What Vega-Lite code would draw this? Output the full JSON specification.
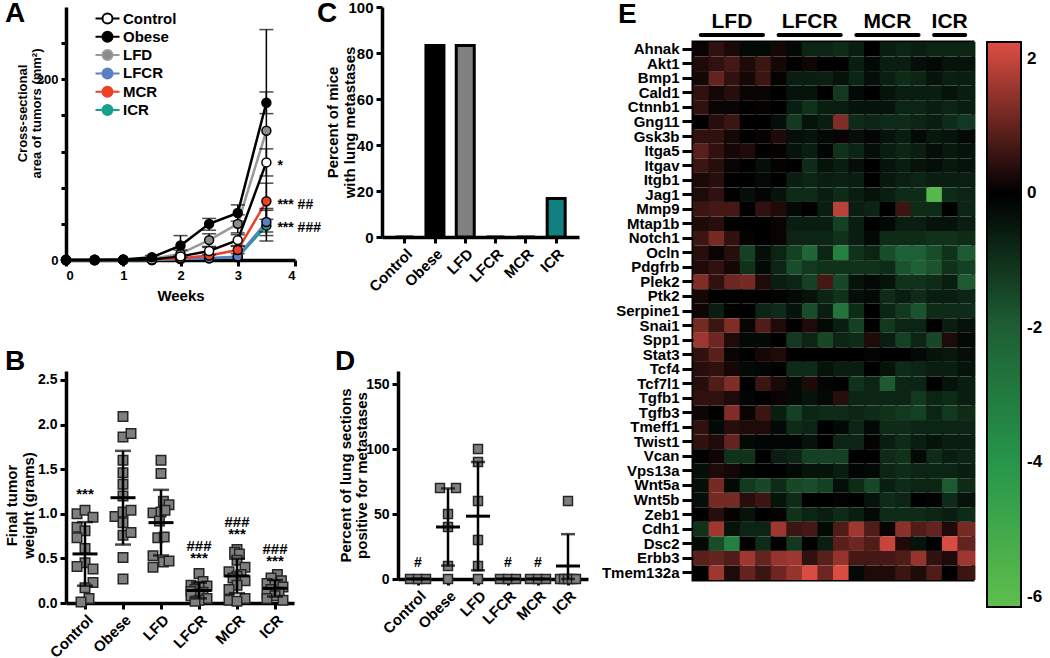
{
  "$schema": "https://vega.github.io/schema/vega-lite/v6.json",
  "background": "white",
  "padding": {"left": 4, "top": 0, "right": 0, "bottom": 0},
  "config": {
    "font": "Liberation Sans",
    "view": {"stroke": null},
    "axis": {"grid": false, "domainColor": "black", "domainWidth": 3.5, "tickColor": "black", "tickWidth": 3, "tickSize": 6, "labelColor": "black", "labelFontWeight": "bold", "labelFontSize": 14, "labelFont": "Liberation Sans", "titleFont": "Liberation Sans", "titleFontWeight": "bold", "titleFontSize": 15, "titleColor": "black", "labelPadding": 3},
    "title": {"font": "Liberation Sans", "fontSize": 28, "fontWeight": "bold", "anchor": "start", "frame": "group", "offset": 0, "baseline": "alphabetic", "color": "black"},
    "legend": {"labelFont": "Liberation Sans", "labelColor": "black", "padding": 0}
  },
  "datasets": {
    "growth": [
      {"group":"ICR","week":0,"area":0},{"group":"ICR","week":0.5,"area":0},{"group":"ICR","week":1,"area":0},{"group":"ICR","week":1.5,"area":0},{"group":"ICR","week":2,"area":1},{"group":"ICR","week":2.5,"area":2},{"group":"ICR","week":3,"area":3},{"group":"ICR","week":3.5,"area":38},
      {"group":"LFCR","week":0,"area":0},{"group":"LFCR","week":0.5,"area":0},{"group":"LFCR","week":1,"area":0},{"group":"LFCR","week":1.5,"area":0},{"group":"LFCR","week":2,"area":1},{"group":"LFCR","week":2.5,"area":2},{"group":"LFCR","week":3,"area":4},{"group":"LFCR","week":3.5,"area":42},
      {"group":"MCR","week":0,"area":0},{"group":"MCR","week":0.5,"area":0},{"group":"MCR","week":1,"area":0},{"group":"MCR","week":1.5,"area":0.5},{"group":"MCR","week":2,"area":2},{"group":"MCR","week":2.5,"area":5},{"group":"MCR","week":3,"area":11},{"group":"MCR","week":3.5,"area":65},
      {"group":"LFD","week":0,"area":0},{"group":"LFD","week":0.5,"area":0},{"group":"LFD","week":1,"area":0},{"group":"LFD","week":1.5,"area":1},{"group":"LFD","week":2,"area":7},{"group":"LFD","week":2.5,"area":22},{"group":"LFD","week":3,"area":40},{"group":"LFD","week":3.5,"area":143},
      {"group":"Control","week":0,"area":0},{"group":"Control","week":0.5,"area":0},{"group":"Control","week":1,"area":0},{"group":"Control","week":1.5,"area":0.5},{"group":"Control","week":2,"area":4},{"group":"Control","week":2.5,"area":10},{"group":"Control","week":3,"area":22},{"group":"Control","week":3.5,"area":108},
      {"group":"Obese","week":0,"area":0},{"group":"Obese","week":0.5,"area":0},{"group":"Obese","week":1,"area":0.5},{"group":"Obese","week":1.5,"area":3},{"group":"Obese","week":2,"area":16},{"group":"Obese","week":2.5,"area":40},{"group":"Obese","week":3,"area":52},{"group":"Obese","week":3.5,"area":174}
    ],
    "growthErr": [
      {"group":"Obese","week":1.5,"lo":1,"hi":5},{"group":"Obese","week":2,"lo":5,"hi":27},{"group":"Obese","week":2.5,"lo":33,"hi":46},{"group":"Obese","week":3,"lo":43,"hi":61},{"group":"Obese","week":3.5,"lo":162,"hi":186},
      {"group":"LFD","week":2,"lo":3,"hi":11},{"group":"LFD","week":2.5,"lo":15,"hi":29},{"group":"LFD","week":3,"lo":30,"hi":50},{"group":"LFD","week":3.5,"lo":31,"hi":255},
      {"group":"Control","week":2.5,"lo":6,"hi":14},{"group":"Control","week":3,"lo":16,"hi":28},{"group":"Control","week":3.5,"lo":93,"hi":123},
      {"group":"MCR","week":3,"lo":7,"hi":15},{"group":"MCR","week":3.5,"lo":45,"hi":85},
      {"group":"LFCR","week":3.5,"lo":27,"hi":57},{"group":"ICR","week":3.5,"lo":21,"hi":55}
    ],
    "growthNotes": [
      {"week":3.5,"area":108,"note":"*"},{"week":3.5,"area":65,"note":"*** ##"},{"week":3.5,"area":40,"note":"*** ###"}
    ],
    "weights": [
      {"group":"Control","g":1.0,"j":-1},{"group":"Control","g":1.04,"j":0},{"group":"Control","g":0.96,"j":1},{"group":"Control","g":0.85,"j":-1},{"group":"Control","g":0.81,"j":0},{"group":"Control","g":0.73,"j":-1},{"group":"Control","g":0.61,"j":0},{"group":"Control","g":0.45,"j":0},{"group":"Control","g":0.41,"j":-1},{"group":"Control","g":0.38,"j":1},{"group":"Control","g":0.23,"j":1},{"group":"Control","g":0.17,"j":0},{"group":"Control","g":0.05,"j":0.5},{"group":"Control","g":0.01,"j":-0.5},
      {"group":"Obese","g":2.09,"j":0},{"group":"Obese","g":1.86,"j":0},{"group":"Obese","g":1.9,"j":1},{"group":"Obese","g":1.6,"j":0},{"group":"Obese","g":1.46,"j":0},{"group":"Obese","g":1.33,"j":0},{"group":"Obese","g":1.2,"j":0},{"group":"Obese","g":0.97,"j":-1},{"group":"Obese","g":1.02,"j":0},{"group":"Obese","g":1.04,"j":1},{"group":"Obese","g":0.9,"j":0},{"group":"Obese","g":0.76,"j":0},{"group":"Obese","g":0.79,"j":1},{"group":"Obese","g":0.51,"j":0},{"group":"Obese","g":0.27,"j":0},
      {"group":"LFD","g":1.6,"j":0},{"group":"LFD","g":1.45,"j":0},{"group":"LFD","g":1.01,"j":-1},{"group":"LFD","g":1.02,"j":0},{"group":"LFD","g":1.14,"j":0.3},{"group":"LFD","g":1.1,"j":1},{"group":"LFD","g":1.04,"j":0.5},{"group":"LFD","g":0.92,"j":-0.2},{"group":"LFD","g":0.73,"j":-0.4},{"group":"LFD","g":0.74,"j":0.4},{"group":"LFD","g":0.53,"j":-1},{"group":"LFD","g":0.4,"j":-1},{"group":"LFD","g":0.46,"j":0.3},{"group":"LFD","g":0.47,"j":1},
      {"group":"LFCR","g":0.33,"j":0},{"group":"LFCR","g":0.24,"j":0.5},{"group":"LFCR","g":0.2,"j":-1},{"group":"LFCR","g":0.19,"j":1},{"group":"LFCR","g":0.18,"j":0},{"group":"LFCR","g":0.15,"j":-0.5},{"group":"LFCR","g":0.13,"j":-1},{"group":"LFCR","g":0.12,"j":0.5},{"group":"LFCR","g":0.1,"j":0},{"group":"LFCR","g":0.08,"j":-1},{"group":"LFCR","g":0.05,"j":1},{"group":"LFCR","g":0.03,"j":0},{"group":"LFCR","g":0.02,"j":-0.5},
      {"group":"MCR","g":0.6,"j":0},{"group":"MCR","g":0.57,"j":-0.3},{"group":"MCR","g":0.55,"j":0.3},{"group":"MCR","g":0.48,"j":0},{"group":"MCR","g":0.4,"j":1},{"group":"MCR","g":0.35,"j":-1},{"group":"MCR","g":0.32,"j":0.5},{"group":"MCR","g":0.3,"j":0},{"group":"MCR","g":0.28,"j":-0.5},{"group":"MCR","g":0.25,"j":1},{"group":"MCR","g":0.2,"j":0},{"group":"MCR","g":0.15,"j":-1},{"group":"MCR","g":0.05,"j":1},{"group":"MCR","g":0.03,"j":-1},{"group":"MCR","g":0.02,"j":0},
      {"group":"ICR","g":0.32,"j":0.3},{"group":"ICR","g":0.28,"j":-0.5},{"group":"ICR","g":0.25,"j":0.8},{"group":"ICR","g":0.22,"j":-1},{"group":"ICR","g":0.2,"j":0},{"group":"ICR","g":0.18,"j":1},{"group":"ICR","g":0.15,"j":-0.5},{"group":"ICR","g":0.12,"j":0.5},{"group":"ICR","g":0.1,"j":-1},{"group":"ICR","g":0.08,"j":0},{"group":"ICR","g":0.05,"j":-1},{"group":"ICR","g":0.03,"j":1}
    ],
    "weightNotes": [
      {"group":"Control","y":1.22,"note":"***"},
      {"group":"LFCR","y":0.64,"note":"###"},{"group":"LFCR","y":0.5,"note":"***"},
      {"group":"MCR","y":0.91,"note":"###"},{"group":"MCR","y":0.77,"note":"***"},
      {"group":"ICR","y":0.61,"note":"###"},{"group":"ICR","y":0.475,"note":"***"}
    ],
    "mets": [
      {"group":"Control","pct":0},{"group":"Obese","pct":83.3},{"group":"LFD","pct":83.3},{"group":"LFCR","pct":0},{"group":"MCR","pct":0},{"group":"ICR","pct":16.7}
    ],
    "sections": [
      {"group":"Control","p":0,"j":-1},{"group":"Control","p":0,"j":0},{"group":"Control","p":0,"j":1},
      {"group":"Obese","p":70,"j":-1},{"group":"Obese","p":70,"j":1},{"group":"Obese","p":50,"j":0},{"group":"Obese","p":40,"j":0},{"group":"Obese","p":10,"j":0},{"group":"Obese","p":0,"j":0},
      {"group":"LFD","p":100,"j":0},{"group":"LFD","p":90,"j":0},{"group":"LFD","p":60,"j":0},{"group":"LFD","p":30,"j":0},{"group":"LFD","p":10,"j":0},{"group":"LFD","p":0,"j":0},
      {"group":"LFCR","p":0,"j":-1},{"group":"LFCR","p":0,"j":0},{"group":"LFCR","p":0,"j":1},
      {"group":"MCR","p":0,"j":-1},{"group":"MCR","p":0,"j":0},{"group":"MCR","p":0,"j":1},
      {"group":"ICR","p":60,"j":0},{"group":"ICR","p":0,"j":-1},{"group":"ICR","p":0,"j":-0.5},{"group":"ICR","p":0,"j":0},{"group":"ICR","p":0,"j":0.5},{"group":"ICR","p":0,"j":1}
    ],
    "sectionNotes": [
      {"group":"Control","p":12,"note":"#"},{"group":"LFCR","p":12,"note":"#"},{"group":"MCR","p":12,"note":"#"}
    ],
    "heatGroups": [
      {"label":"LFD","mid":2.5,"from":0.5,"to":4.5},
      {"label":"LFCR","mid":7.5,"from":5.5,"to":9.5},
      {"label":"MCR","mid":12.5,"from":10.5,"to":14.5},
      {"label":"ICR","mid":16.5,"from":15.5,"to":17.5}
    ],
    "heat": [
      {"gene":"Ahnak","c01":0.1,"c02":0.5,"c03":0.25,"c04":-0.2,"c05":-0.2,"c06":0.2,"c07":-0.2,"c08":-0.75,"c09":-0.75,"c10":-0.9,"c11":-0.6,"c12":0,"c13":-0.6,"c14":-0.75,"c15":-0.6,"c16":-0.75,"c17":-0.75,"c18":-0.75},
      {"gene":"Akt1","c01":0.3,"c02":0.5,"c03":0.7,"c04":0.3,"c05":0.6,"c06":0.2,"c07":0,"c08":0.15,"c09":0,"c10":0,"c11":-0.6,"c12":-0.2,"c13":-0.6,"c14":-0.6,"c15":-0.3,"c16":-0.2,"c17":-0.4,"c18":-0.4},
      {"gene":"Bmp1","c01":0.2,"c02":1.0,"c03":0.5,"c04":0.2,"c05":0.6,"c06":0.05,"c07":-0.6,"c08":-0.6,"c09":-0.65,"c10":-0.4,"c11":-0.75,"c12":-0.3,"c13":-0.65,"c14":-0.9,"c15":-0.75,"c16":-0.4,"c17":-0.65,"c18":-0.6},
      {"gene":"Cald1","c01":0.5,"c02":0.2,"c03":0.4,"c04":0.1,"c05":0.1,"c06":0,"c07":-0.4,"c08":-0.4,"c09":0,"c10":-1.2,"c11":-0.2,"c12":0,"c13":-0.4,"c14":-0.6,"c15":-0.6,"c16":-0.6,"c17":-0.4,"c18":-0.6},
      {"gene":"Ctnnb1","c01":0.5,"c02":0.1,"c03":0.1,"c04":0,"c05":0.05,"c06":0,"c07":-0.6,"c08":-1.05,"c09":-0.6,"c10":-0.6,"c11":-0.4,"c12":-0.4,"c13":-0.4,"c14":-0.75,"c15":-0.75,"c16":-0.6,"c17":-0.75,"c18":-0.6},
      {"gene":"Gng11","c01":0,"c02":0.4,"c03":0.6,"c04":0,"c05":0,"c06":-0.3,"c07":-1.2,"c08":-0.4,"c09":-0.6,"c10":1.3,"c11":-0.9,"c12":-0.75,"c13":-0.9,"c14":-0.9,"c15":-0.75,"c16":-0.6,"c17":-0.9,"c18":-1.2},
      {"gene":"Gsk3b","c01":0.5,"c02":0.5,"c03":0.2,"c04":0,"c05":0.05,"c06":0.3,"c07":-0.3,"c08":-0.4,"c09":-0.2,"c10":0.1,"c11":-0.3,"c12":-0.1,"c13":-0.4,"c14":-0.6,"c15":-0.2,"c16":-0.5,"c17":-0.4,"c18":-0.2},
      {"gene":"Itga5","c01":0.9,"c02":0.5,"c03":0.2,"c04":0.3,"c05":0,"c06":0.05,"c07":-0.4,"c08":-0.6,"c09":-0.1,"c10":-1.05,"c11":-0.75,"c12":-0.3,"c13":-0.6,"c14":-0.75,"c15":-0.6,"c16":-0.3,"c17":-0.5,"c18":-0.4},
      {"gene":"Itgav","c01":0.6,"c02":0.4,"c03":0.1,"c04":0,"c05":-0.3,"c06":0.05,"c07":0,"c08":-0.9,"c09":-0.4,"c10":-0.6,"c11":-0.3,"c12":0,"c13":-0.4,"c14":-0.6,"c15":-0.4,"c16":-0.3,"c17":-0.5,"c18":-0.4},
      {"gene":"Itgb1","c01":0.25,"c02":0.4,"c03":0,"c04":0,"c05":-0.2,"c06":0,"c07":-0.6,"c08":-0.75,"c09":-0.6,"c10":-0.65,"c11":-0.6,"c12":0,"c13":-0.5,"c14":-0.65,"c15":-0.75,"c16":-0.6,"c17":-0.6,"c18":-0.65},
      {"gene":"Jag1","c01":0.3,"c02":0.5,"c03":0,"c04":-0.3,"c05":-0.1,"c06":-0.4,"c07":-0.9,"c08":-0.9,"c09":-0.6,"c10":-0.9,"c11":-0.6,"c12":-0.4,"c13":-0.6,"c14":-0.9,"c15":-0.9,"c16":-5.8,"c17":-0.9,"c18":-0.75},
      {"gene":"Mmp9","c01":0.6,"c02":0.7,"c03":0.7,"c04":0,"c05":0.5,"c06":0.3,"c07":-0.2,"c08":0,"c09":-0.6,"c10":1.9,"c11":-0.6,"c12":-0.75,"c13":0,"c14":0.6,"c15":-0.9,"c16":-0.9,"c17":0,"c18":-0.75},
      {"gene":"Mtap1b","c01":0.3,"c02":0.4,"c03":0,"c04":0,"c05":0,"c06":0.1,"c07":-0.6,"c08":-0.6,"c09":-0.6,"c10":-1.35,"c11":-0.6,"c12":0,"c13":-0.2,"c14":-0.6,"c15":-0.6,"c16":-0.4,"c17":-0.4,"c18":-0.6},
      {"gene":"Notch1","c01":0.6,"c02":1.2,"c03":0.5,"c04":0.05,"c05":0,"c06":0.1,"c07":-0.75,"c08":-0.75,"c09":-0.75,"c10":-1.05,"c11":-0.6,"c12":-0.2,"c13":-0.9,"c14":-0.9,"c15":-0.9,"c16":-1.05,"c17":-1.05,"c18":-0.9},
      {"gene":"Ocln","c01":0.4,"c02":0.1,"c03":0.4,"c04":-1.35,"c05":-0.3,"c06":-0.75,"c07":-1.35,"c08":-2.2,"c09":-0.75,"c10":-3.2,"c11":-1.05,"c12":-0.75,"c13":-1.6,"c14":-2.05,"c15":-2.05,"c16":-1.6,"c17":-1.05,"c18":-1.9},
      {"gene":"Pdgfrb","c01":0.3,"c02":0.5,"c03":0.2,"c04":-1.05,"c05":-0.2,"c06":-0.75,"c07":-1.6,"c08":-1.2,"c09":-1.05,"c10":-1.05,"c11":-1.05,"c12":-1.05,"c13":-0.9,"c14":-1.75,"c15":-2.05,"c16":-1.75,"c17":-1.05,"c18":-1.35},
      {"gene":"Plek2","c01":1.3,"c02":0.5,"c03":1.1,"c04":1.2,"c05":0.3,"c06":-0.6,"c07":-0.75,"c08":-1.35,"c09":0.7,"c10":-1.5,"c11":-0.4,"c12":-0.2,"c13":-0.4,"c14":-1.05,"c15":-1.05,"c16":-0.9,"c17":-0.6,"c18":-1.9},
      {"gene":"Ptk2","c01":0.2,"c02":0,"c03":0,"c04":0,"c05":0,"c06":0.05,"c07":-0.2,"c08":-0.4,"c09":-0.75,"c10":-1.05,"c11":-0.3,"c12":-0.2,"c13":-0.9,"c14":-0.6,"c15":-0.9,"c16":-0.6,"c17":-0.6,"c18":-0.75},
      {"gene":"Serpine1","c01":0.15,"c02":-0.6,"c03":0,"c04":0,"c05":-0.75,"c06":-0.9,"c07":-0.4,"c08":-1.6,"c09":-0.6,"c10":-2.8,"c11":-0.9,"c12":0,"c13":-0.75,"c14":-1.2,"c15":-1.75,"c16":-0.9,"c17":-0.9,"c18":-0.9},
      {"gene":"Snai1","c01":1.2,"c02":0.6,"c03":1.3,"c04":0.1,"c05":0.8,"c06":0.3,"c07":0,"c08":0.3,"c09":-0.2,"c10":-0.6,"c11":-1.35,"c12":0,"c13":-1.2,"c14":-0.75,"c15":-0.75,"c16":0,"c17":-0.6,"c18":-0.4},
      {"gene":"Spp1","c01":1.6,"c02":1.1,"c03":0.3,"c04":-0.2,"c05":-0.2,"c06":0,"c07":-1.2,"c08":-0.75,"c09":-1.5,"c10":-0.75,"c11":-0.9,"c12":0.3,"c13":-0.6,"c14":-1.35,"c15":-0.75,"c16":-1.5,"c17":0.3,"c18":-0.2},
      {"gene":"Stat3","c01":0.5,"c02":0.9,"c03":0.1,"c04":0,"c05":0.2,"c06":0.3,"c07":0,"c08":0,"c09":0,"c10":0,"c11":0,"c12":-0.1,"c13":0,"c14":0,"c15":-0.2,"c16":-0.4,"c17":-0.5,"c18":-0.3},
      {"gene":"Tcf4","c01":0.4,"c02":0.5,"c03":0.2,"c04":-0.2,"c05":-0.1,"c06":0,"c07":-0.9,"c08":-0.9,"c09":-0.4,"c10":-0.6,"c11":-0.6,"c12":0,"c13":-0.4,"c14":-0.9,"c15":-0.75,"c16":-0.6,"c17":-0.6,"c18":-0.4},
      {"gene":"Tcf7l1","c01":0.4,"c02":0.8,"c03":1.3,"c04":0,"c05":0.6,"c06":0.25,"c07":-0.2,"c08":0.3,"c09":-0.1,"c10":0,"c11":-1.05,"c12":-0.75,"c13":-1.9,"c14":-0.75,"c15":-0.75,"c16":0,"c17":-0.4,"c18":-0.6},
      {"gene":"Tgfb1","c01":0.5,"c02":0.5,"c03":0.3,"c04":-0.1,"c05":0,"c06":0.1,"c07":-0.2,"c08":-0.4,"c09":-0.2,"c10":0.4,"c11":-0.75,"c12":-0.75,"c13":-0.75,"c14":-0.75,"c15":-1.2,"c16":-0.75,"c17":-0.9,"c18":-0.6},
      {"gene":"Tgfb3","c01":0.15,"c02":0,"c03":1.3,"c04":0.1,"c05":0.6,"c06":-0.6,"c07":-1.35,"c08":-0.75,"c09":-0.9,"c10":-0.9,"c11":-0.75,"c12":-0.9,"c13":-1.05,"c14":-1.2,"c15":-1.35,"c16":-0.75,"c17":-1.2,"c18":-0.9},
      {"gene":"Tmeff1","c01":0.5,"c02":-0.2,"c03":0.4,"c04":0.3,"c05":0.3,"c06":-0.2,"c07":-0.9,"c08":-0.75,"c09":0,"c10":-0.2,"c11":-0.75,"c12":-0.2,"c13":-0.9,"c14":-0.9,"c15":-0.75,"c16":-0.75,"c17":-0.75,"c18":-0.75},
      {"gene":"Twist1","c01":0.5,"c02":0.3,"c03":1.0,"c04":-0.2,"c05":-0.1,"c06":-0.1,"c07":-0.1,"c08":-0.4,"c09":0,"c10":-0.75,"c11":-0.75,"c12":0.05,"c13":-0.6,"c14":-0.9,"c15":-0.6,"c16":-0.4,"c17":-0.6,"c18":-0.6},
      {"gene":"Vcan","c01":0,"c02":0.15,"c03":-1.05,"c04":-1.05,"c05":0,"c06":-0.6,"c07":-0.75,"c08":-1.35,"c09":-1.35,"c10":-1.35,"c11":0,"c12":0,"c13":-0.9,"c14":-1.05,"c15":-0.2,"c16":-0.9,"c17":-0.6,"c18":-0.75},
      {"gene":"Vps13a","c01":-0.3,"c02":0.3,"c03":0.2,"c04":-0.1,"c05":0,"c06":0,"c07":-0.2,"c08":-0.4,"c09":-0.4,"c10":-0.6,"c11":-0.1,"c12":-0.2,"c13":-0.75,"c14":-0.9,"c15":-0.75,"c16":-0.75,"c17":-0.75,"c18":-0.6},
      {"gene":"Wnt5a","c01":-0.3,"c02":1.2,"c03":-0.2,"c04":-1.2,"c05":-1.5,"c06":-0.9,"c07":-1.5,"c08":-1.6,"c09":-1.35,"c10":-0.3,"c11":-0.9,"c12":-1.5,"c13":-0.6,"c14":-0.9,"c15":-0.75,"c16":-0.75,"c17":-1.9,"c18":-0.9},
      {"gene":"Wnt5b","c01":-0.3,"c02":1.2,"c03":1.2,"c04":0.4,"c05":0.6,"c06":-0.4,"c07":-0.9,"c08":0,"c09":0,"c10":0.05,"c11":0,"c12":-0.4,"c13":-0.9,"c14":-0.75,"c15":0,"c16":0.05,"c17":-0.9,"c18":-0.4},
      {"gene":"Zeb1","c01":0,"c02":0.4,"c03":0.05,"c04":-0.4,"c05":0,"c06":0.05,"c07":-1.05,"c08":-0.75,"c09":-0.6,"c10":-0.9,"c11":-0.6,"c12":-0.2,"c13":-0.9,"c14":-0.9,"c15":-0.9,"c16":-0.75,"c17":-0.6,"c18":-0.9},
      {"gene":"Cdh1","c01":-1.05,"c02":1.6,"c03":-0.4,"c04":-0.75,"c05":-0.75,"c06":1.6,"c07":0.6,"c08":0.7,"c09":-0.2,"c10":0.8,"c11":1.6,"c12":0.8,"c13":0.1,"c14":1.4,"c15":0.8,"c16":1.0,"c17":0.3,"c18":1.2},
      {"gene":"Dsc2","c01":-0.2,"c02":-1.6,"c03":-3.2,"c04":0,"c05":-0.9,"c06":0,"c07":-1.2,"c08":0,"c09":-0.6,"c10":0.9,"c11":1.1,"c12":0.8,"c13":2.0,"c14":0.3,"c15":-0.4,"c16":0,"c17":2.2,"c18":1.0},
      {"gene":"Erbb3","c01":0.9,"c02":1.0,"c03":0.8,"c04":1.6,"c05":1.0,"c06":1.5,"c07":1.6,"c08":0.5,"c09":0.9,"c10":1.5,"c11":0.7,"c12":0.7,"c13":0.7,"c14":0.8,"c15":1.5,"c16":0.5,"c17":0.3,"c18":1.6},
      {"gene":"Tmem132a","c01":0,"c02":1.6,"c03":0.3,"c04":1.0,"c05":0.6,"c06":1.1,"c07":1.5,"c08":2.2,"c09":1.1,"c10":2.2,"c11":-0.2,"c12":0.3,"c13":0.3,"c14":0.6,"c15":0.3,"c16":0.8,"c17":0,"c18":0.6}
    ]
  },
  "hconcat": [
    {
      "vconcat": [
        {
          "hconcat": [
            {
              "width": 229, "height": 253,
              "title": {"text": "A", "dx": -61, "dy": 25},
              "layer": [
                {
                  "data": {"name": "growth"},
                  "mark": {"type": "line", "strokeWidth": 2.5},
                  "encoding": {
                    "x": {"field": "week", "type": "quantitative", "scale": {"domain": [0, 4]}, "axis": {"title": "Weeks", "values": [0,0.5,1,1.5,2,2.5,3,3.5,4], "labelExpr": "datum.value % 1 === 0 ? format(datum.value, 'd') : ''", "labelFontSize": 13, "titleFontSize": 15, "titlePadding": 6}},
                    "y": {"field": "area", "type": "quantitative", "scale": {"domain": [0, 271]}, "title": ["Cross-sectional", "area of tumors (mm²)"], "axis": {"titleFontSize": 13, "titleX": -40, "titleY": 106, "titleBaseline": "alphabetic", "titleLineHeight": 14, "values": [0,10,20,30,40,50,60,70,80,90,100,110,120,130,140,150,160,170,180,190,200,210,220,230,240,250,260,270], "labelExpr": "datum.value % 100 === 0 ? datum.label : ''", "labelFontSize": 13, "tickSize": 5}},
                    "stroke": {"field": "group", "type": "nominal", "scale": {"domain": ["Control","Obese","LFD","LFCR","MCR","ICR"], "range": ["#000000","#000000","#9a9a9a","#5b7fc4","#ee4026","#19a08a"]},
                      "legend": {"orient": "none", "legendX": 34, "legendY": 4, "title": null, "symbolType": "M-2.4,0H-1M1,0H2.4M1,0A1,1 0 1,1 -1,0A1,1 0 1,1 1,0Z", "symbolSize": 100, "symbolStrokeWidth": 2, "labelFontSize": 15, "labelFontWeight": "bold", "labelOffset": 8, "rowPadding": -0.7}}
                  }
                },
                {
                  "data": {"name": "growthErr"},
                  "mark": {"type": "errorbar", "color": "black", "thickness": 1.5, "ticks": {"size": 14, "thickness": 1.5}},
                  "encoding": {
                    "x": {"field": "week", "type": "quantitative", "title": "Weeks"},
                    "y": {"field": "lo", "type": "quantitative", "title": ["Cross-sectional", "area of tumors (mm²)"]},
                    "y2": {"field": "hi"}
                  }
                },
                {
                  "data": {"name": "growth"},
                  "mark": {"type": "point", "shape": "circle", "filled": true, "size": 80, "stroke": "black", "strokeWidth": 1.5, "opacity": 1},
                  "encoding": {
                    "x": {"field": "week", "type": "quantitative", "title": "Weeks"},
                    "y": {"field": "area", "type": "quantitative", "title": ["Cross-sectional", "area of tumors (mm²)"]},
                    "fill": {"field": "group", "type": "nominal", "scale": {"domain": ["Control","Obese","LFD","LFCR","MCR","ICR"], "range": ["#ffffff","#000000","#8c8c8c","#5b7fc4","#ee4026","#19a08a"]},
                      "legend": {"orient": "none", "legendX": 34, "legendY": 4, "title": null, "symbolType": "M-2.4,0H-1M1,0H2.4M1,0A1,1 0 1,1 -1,0A1,1 0 1,1 1,0Z", "symbolSize": 100, "symbolStrokeWidth": 2, "labelFontSize": 15, "labelFontWeight": "bold", "labelOffset": 8, "rowPadding": -0.7}}
                  }
                },
                {
                  "data": {"name": "growthNotes"},
                  "mark": {"type": "text", "align": "left", "dx": 11, "dy": 4, "fontSize": 14, "fontWeight": "bold", "color": "black"},
                  "encoding": {
                    "x": {"field": "week", "type": "quantitative", "title": "Weeks"},
                    "y": {"field": "area", "type": "quantitative", "title": ["Cross-sectional", "area of tumors (mm²)"]},
                    "text": {"field": "note"}
                  }
                }
              ]
            },
            {
              "width": 197, "height": 230,
              "title": {"text": "C", "dx": -65, "dy": 32},
              "data": {"name": "mets"},
              "mark": {"type": "bar", "stroke": "black", "strokeWidth": 3},
              "encoding": {
                "x": {"field": "group", "type": "nominal", "sort": ["Control","Obese","LFD","LFCR","MCR","ICR"], "scale": {"paddingInner": 0.4, "paddingOuter": 0.45}, "axis": {"title": null, "labelAngle": -45, "labelFontSize": 15}},
                "y": {"field": "pct", "type": "quantitative", "scale": {"domain": [0, 100]}, "axis": {"title": ["Percent of mice", "with lung metastases"], "titleX": -45, "titleBaseline": "alphabetic", "titleLineHeight": 17, "values": [0,20,40,60,80,100], "labelFontSize": 15}},
                "fill": {"field": "group", "type": "nominal", "scale": {"domain": ["Control","Obese","LFD","LFCR","MCR","ICR"], "range": ["#ffffff","#000000","#808080","#ffffff","#ffffff","#108080"]}, "legend": null}
              }
            }
          ],
          "spacing": 87, "bounds": "flush",
          "resolve": {"scale": {"fill": "independent", "stroke": "independent", "color": "independent"}, "legend": {"fill": "independent", "stroke": "independent", "color": "independent"}}
        },
        {
          "hconcat": [
            {
              "width": 228, "height": 232,
              "title": {"text": "B", "dx": -61, "dy": 9},
              "layer": [
                {
                  "data": {"name": "weights"},
                  "mark": {"type": "point", "shape": "square", "filled": true, "size": 90, "fill": "#7f7f7f", "stroke": "#262626", "strokeWidth": 1.5, "opacity": 1},
                  "encoding": {
                    "x": {"field": "group", "type": "nominal", "sort": ["Control","Obese","LFD","LFCR","MCR","ICR"], "scale": {"type": "point", "padding": 0.5}, "axis": {"title": null, "labelAngle": -45, "labelFontSize": 15}},
                    "xOffset": {"field": "j", "type": "quantitative", "scale": {"domain": [-1, 1], "range": [-8, 8]}},
                    "y": {"field": "g", "type": "quantitative", "scale": {"domain": [0, 2.5]}, "title": ["Final tumor", "weight (grams)"], "axis": {"titleX": -50, "titleY": 134, "titleBaseline": "alphabetic", "titleLineHeight": 17, "values": [0,0.5,1,1.5,2,2.5], "format": ".1f", "labelFontSize": 14}}
                  }
                },
                {
                  "data": {"name": "weights"},
                  "mark": {"type": "errorbar", "extent": "stdev", "color": "black", "thickness": 2.5, "ticks": {"size": 16, "thickness": 2.5}},
                  "encoding": {
                    "x": {"field": "group", "type": "nominal", "sort": ["Control","Obese","LFD","LFCR","MCR","ICR"], "title": null},
                    "y": {"field": "g", "type": "quantitative", "title": ["Final tumor", "weight (grams)"]}
                  }
                },
                {
                  "data": {"name": "weights"},
                  "mark": {"type": "tick", "color": "black", "size": 25, "thickness": 3},
                  "encoding": {
                    "x": {"field": "group", "type": "nominal", "sort": ["Control","Obese","LFD","LFCR","MCR","ICR"], "title": null},
                    "y": {"aggregate": "mean", "field": "g", "type": "quantitative", "title": ["Final tumor", "weight (grams)"]}
                  }
                },
                {
                  "data": {"name": "weightNotes"},
                  "mark": {"type": "text", "fontSize": 15, "fontWeight": "bold", "color": "black", "baseline": "middle"},
                  "encoding": {
                    "x": {"field": "group", "type": "nominal", "sort": ["Control","Obese","LFD","LFCR","MCR","ICR"], "title": null},
                    "y": {"field": "y", "type": "quantitative", "title": ["Final tumor", "weight (grams)"]},
                    "text": {"field": "note"}
                  }
                }
              ]
            },
            {
              "width": 190, "height": 208,
              "title": {"text": "D", "dx": -63, "dy": 9},
              "layer": [
                {
                  "data": {"name": "sections"},
                  "mark": {"type": "point", "shape": "square", "filled": true, "size": 80, "fill": "#7f7f7f", "stroke": "#262626", "strokeWidth": 1.5, "opacity": 1},
                  "encoding": {
                    "x": {"field": "group", "type": "nominal", "sort": ["Control","Obese","LFD","LFCR","MCR","ICR"], "scale": {"type": "point", "padding": 0.667}, "axis": {"title": null, "labelAngle": -45, "labelFontSize": 15}},
                    "xOffset": {"field": "j", "type": "quantitative", "scale": {"domain": [-1, 1], "range": [-7, 7]}},
                    "y": {"field": "p", "type": "quantitative", "scale": {"domain": [0, 150], "clamp": true}, "title": ["Percent of lung sections", "positive for metastases"], "axis": {"titleX": -48, "titleBaseline": "alphabetic", "titleLineHeight": 16, "values": [0,50,100,150], "labelFontSize": 14}}
                  }
                },
                {
                  "data": {"name": "sections"},
                  "mark": {"type": "errorbar", "extent": "stdev", "color": "black", "thickness": 2.5, "ticks": {"size": 14, "thickness": 2.5}},
                  "encoding": {
                    "x": {"field": "group", "type": "nominal", "sort": ["Control","Obese","LFD","LFCR","MCR","ICR"], "title": null},
                    "y": {"field": "p", "type": "quantitative", "title": ["Percent of lung sections", "positive for metastases"]}
                  }
                },
                {
                  "data": {"name": "sections"},
                  "mark": {"type": "tick", "color": "black", "size": 24, "thickness": 3},
                  "encoding": {
                    "x": {"field": "group", "type": "nominal", "sort": ["Control","Obese","LFD","LFCR","MCR","ICR"], "title": null},
                    "y": {"aggregate": "mean", "field": "p", "type": "quantitative", "title": ["Percent of lung sections", "positive for metastases"]}
                  }
                },
                {
                  "data": {"name": "sectionNotes"},
                  "mark": {"type": "text", "fontSize": 14, "fontWeight": "bold", "color": "black", "baseline": "middle"},
                  "encoding": {
                    "x": {"field": "group", "type": "nominal", "sort": ["Control","Obese","LFD","LFCR","MCR","ICR"], "title": null},
                    "y": {"field": "p", "type": "quantitative", "title": ["Percent of lung sections", "positive for metastases"]},
                    "text": {"field": "note"}
                  }
                }
              ]
            }
          ],
          "spacing": 104, "bounds": "flush",
          "resolve": {"scale": {"fill": "independent", "stroke": "independent", "color": "independent"}, "legend": {"fill": "independent", "stroke": "independent", "color": "independent"}}
        }
      ],
      "spacing": 45,
      "resolve": {"scale": {"fill": "independent", "stroke": "independent", "color": "independent"}, "legend": {"fill": "independent", "stroke": "independent", "color": "independent"}}
    },
    {
      "vconcat": [
        {
          "width": 280, "height": 35,
          "title": {"text": "E", "dx": -75, "dy": 26},
          "data": {"name": "heatGroups"},
          "layer": [
            {
              "mark": {"type": "rule", "strokeWidth": 4, "strokeCap": "round", "color": "black"},
              "encoding": {
                "x": {"field": "from", "type": "quantitative", "scale": {"domain": [0, 18]}, "axis": null},
                "x2": {"field": "to"},
                "y": {"datum": 0, "type": "quantitative", "scale": {"domain": [-1, 4]}, "axis": null}
              }
            },
            {
              "mark": {"type": "text", "fontSize": 21, "fontWeight": "bold", "baseline": "alphabetic", "color": "black"},
              "encoding": {
                "x": {"field": "mid", "type": "quantitative", "axis": null},
                "y": {"datum": 1, "type": "quantitative", "axis": null},
                "text": {"field": "label"}
              }
            }
          ]
        },
        {
          "width": 280, "height": 538,
          "view": {"stroke": "black", "strokeWidth": 3},
          "data": {"name": "heat"},
          "transform": [
            {"fold": ["c01","c02","c03","c04","c05","c06","c07","c08","c09","c10","c11","c12","c13","c14","c15","c16","c17","c18"], "as": ["col", "v"]}
          ],
          "mark": {"type": "rect"},
          "encoding": {
            "x": {"field": "col", "type": "ordinal", "axis": null, "scale": {"paddingInner": 0, "paddingOuter": 0}},
            "y": {"field": "gene", "type": "ordinal", "sort": ["Ahnak","Akt1","Bmp1","Cald1","Ctnnb1","Gng11","Gsk3b","Itga5","Itgav","Itgb1","Jag1","Mmp9","Mtap1b","Notch1","Ocln","Pdgfrb","Plek2","Ptk2","Serpine1","Snai1","Spp1","Stat3","Tcf4","Tcf7l1","Tgfb1","Tgfb3","Tmeff1","Twist1","Vcan","Vps13a","Wnt5a","Wnt5b","Zeb1","Cdh1","Dsc2","Erbb3","Tmem132a"], "scale": {"paddingInner": 0, "paddingOuter": 0}, "axis": {"title": null, "domain": false, "tickSize": 11, "tickWidth": 3, "labelFontSize": 15, "labelPadding": 3}},
            "color": {"field": "v", "type": "quantitative", "scale": {"domain": [-6.15, -4, -2, 0, 2.25], "range": ["#5fbe4c", "#26964a", "#1e5f34", "#000000", "#de4e44"], "interpolate": "rgb"},
              "legend": {"orient": "none", "legendX": 294, "legendY": 0, "direction": "vertical", "title": null, "gradientLength": 565, "gradientThickness": 34, "gradientStrokeColor": "black", "gradientStrokeWidth": 2, "values": [2, 0, -2, -4, -6], "labelExpr": "'' + datum.value", "labelFontSize": 17, "labelFontWeight": "bold", "labelOverlap": false, "labelOffset": 6}}
          }
        }
      ],
      "spacing": 0, "bounds": "flush",
      "resolve": {"scale": {"color": "independent"}, "legend": {"color": "independent"}}
    }
  ],
  "spacing": 11,
  "resolve": {"scale": {"fill": "independent", "stroke": "independent", "color": "independent"}, "legend": {"fill": "independent", "stroke": "independent", "color": "independent"}}
}
